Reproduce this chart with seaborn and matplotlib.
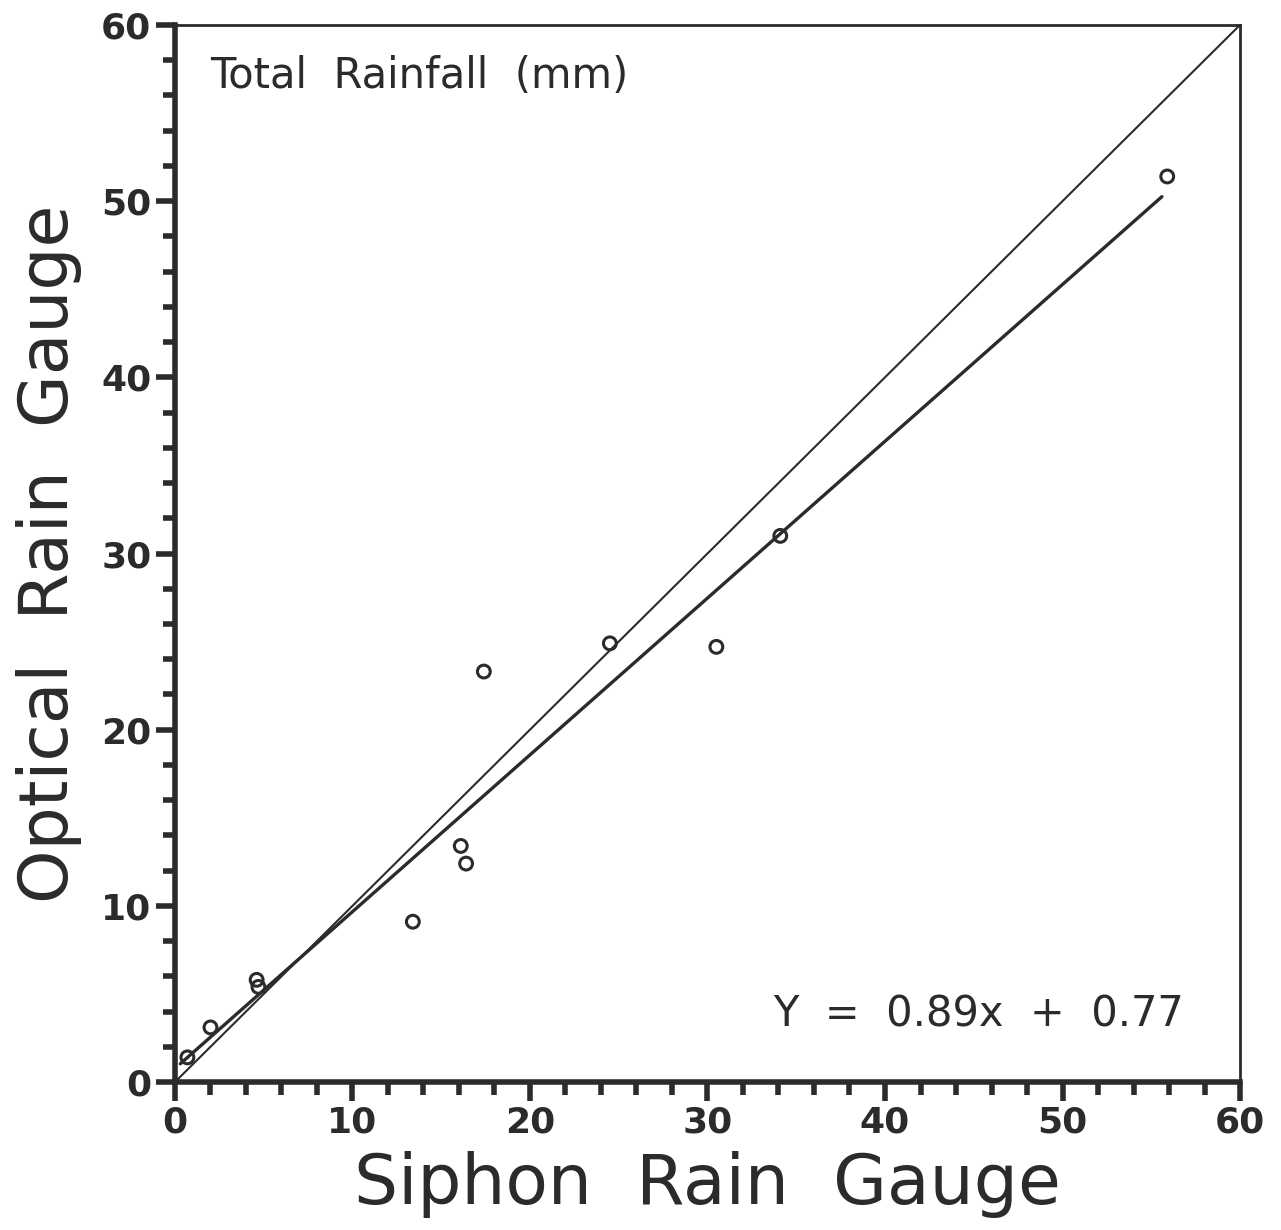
import matplotlib
matplotlib.use("Agg")
import matplotlib.pyplot as plt
import seaborn as sns
import numpy as np
import pandas as pd
from matplotlib.ticker import MultipleLocator

# Data
siphon = [0.7, 2.0, 4.6, 4.7, 13.4, 16.1, 16.4, 17.4, 24.5, 30.5, 34.1, 55.9]
optical = [1.4, 3.1, 5.8, 5.4, 9.1, 13.4, 12.4, 23.3, 24.9, 24.7, 31.0, 51.4]
fit_slope = 0.89
fit_intercept = 0.77
fit_x_range = [0.3, 55.6]
one_to_one = [0, 60]
x_ticks = [0, 10, 20, 30, 40, 50, 60]
y_ticks = [0, 10, 20, 30, 40, 50, 60]

sns.set_theme(style="white")
plt.rcParams['font.family'] = ['DejaVu Sans']

ink = "#2b2b2b"
fig = plt.figure(figsize=(12.81, 12.30), dpi=100)
ax = fig.add_axes([0.1366, 0.1203, 0.968 - 0.1366, 0.9797 - 0.1203])

df = pd.DataFrame({"x": siphon, "y": optical})

# 1:1 line
sns.lineplot(x=one_to_one, y=one_to_one, ax=ax, color=ink, linewidth=1.5)
# regression line
fx = np.array(fit_x_range)
sns.lineplot(x=fx, y=fit_slope * fx + fit_intercept, ax=ax, color=ink, linewidth=2.4)
# points
sns.scatterplot(data=df, x="x", y="y", ax=ax, marker="o", s=85,
                facecolor="none", edgecolor=ink, linewidth=2.2, zorder=5)

ax.set_xlim(0, 60)
ax.set_ylim(0, 60)
ax.set_xticks(x_ticks)
ax.set_yticks(y_ticks)
ax.xaxis.set_minor_locator(MultipleLocator(2))
ax.yaxis.set_minor_locator(MultipleLocator(2))
ax.tick_params(axis="both", which="major", direction="out", length=14, width=4,
               color=ink, labelsize=26, labelcolor=ink, pad=3)
ax.tick_params(axis="both", which="minor", direction="out", length=9, width=4,
               color=ink)
ax.tick_params(left=True, bottom=True, which="both")
for lab in ax.get_xticklabels() + ax.get_yticklabels():
    lab.set_fontweight("bold")

for s in ["left", "bottom"]:
    ax.spines[s].set_linewidth(4)
    ax.spines[s].set_color(ink)
for s in ["top", "right"]:
    ax.spines[s].set_linewidth(2)
    ax.spines[s].set_color(ink)

ax.set_xlabel("Siphon  Rain  Gauge", fontsize=50, color=ink, labelpad=8)
ax.set_ylabel("Optical  Rain  Gauge", fontsize=49, color=ink, labelpad=14)

ax.text(0.033, 0.972, "Total  Rainfall  (mm)", transform=ax.transAxes,
        fontsize=30, color=ink, ha="left", va="top")
ax.text(0.947, 0.044, "Y  =  0.89x  +  0.77", transform=ax.transAxes,
        fontsize=30, color=ink, ha="right", va="bottom")

fig.savefig("out.png", dpi=100, facecolor="white")
